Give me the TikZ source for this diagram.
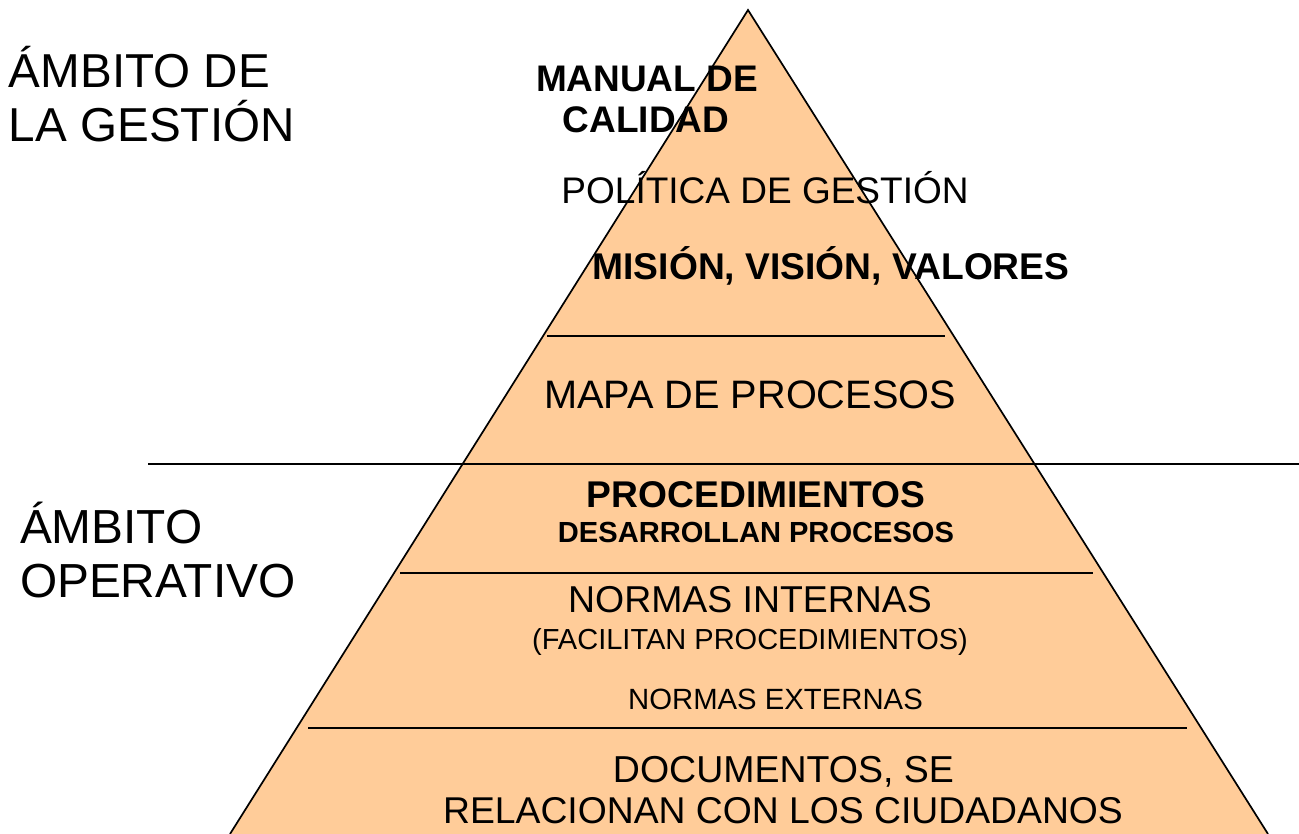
\documentclass[tikz,border=0pt]{standalone}
\usepackage{fontspec}
\setmainfont{Liberation Sans}
\definecolor{peach}{RGB}{255,204,153}
\tikzset{
  txt/.style={inner sep=0pt, outer sep=0pt, anchor=base, text=black},
  ltxt/.style={txt, anchor=base west},
  sidestroke/.style={line width=1.7pt, black},
  divider/.style={line width=1.6pt, black},
}
\newcommand{\fs}[1]{\fontsize{#1}{#1}\selectfont}
\begin{document}
\begin{tikzpicture}[x=1pt,y=-1pt]
\useasboundingbox (0,0) rectangle (1299,834);
\clip (0,0) rectangle (1299,834);
% pyramid
\coordinate (apex) at (748,10);
\coordinate (bl) at (230,834);
\coordinate (br) at (1268,834);
\fill[peach] (apex) -- (br) -- (bl) -- cycle;
\draw[sidestroke, line join=miter] (bl) -- (apex) -- (br);
% dividers
\coordinate (d1l) at (547,336); \coordinate (d1r) at (945,336);
\coordinate (d2l) at (148,464); \coordinate (d2r) at (1299,464);
\coordinate (d3l) at (400,573); \coordinate (d3r) at (1093,573);
\coordinate (d4l) at (308,728); \coordinate (d4r) at (1187,728);
\draw[divider] (d1l) -- (d1r);
\draw[divider] (d2l) -- (d2r);
\draw[divider] (d3l) -- (d3r);
\draw[divider] (d4l) -- (d4r);
% left labels
\node[ltxt, font=\fs{47.6}] (g1) at (9,88) {ÁMBITO DE};
\node[ltxt, font=\fs{47.6}] (g2) at (9,142) {LA GESTIÓN};
\node[ltxt, font=\fs{47.8}] (o1) at (20,543) {ÁMBITO};
\node[ltxt, font=\fs{47.8}] (o2) at (20,597) {OPERATIVO};
% pyramid labels
\node[txt, font=\bfseries\fs{37}] (m1) at (647,92) {MANUAL DE};
\node[txt, font=\bfseries\fs{37}] (m2) at (646,133) {CALIDAD};
\node[txt, font=\fs{37}] (pol) at (765,204) {POLÍTICA DE GESTIÓN};
\node[txt, font=\bfseries\fs{37.2}] (mis) at (831,280) {MISIÓN, VISIÓN, VALORES};
\node[txt, font=\fs{39.7}] (mapa) at (750,408) {MAPA DE PROCESOS};
\node[txt, font=\bfseries\fs{37.2}] (proc) at (756,507) {PROCEDIMIENTOS};
\node[txt, font=\bfseries\fs{29.1}] (des) at (756,542) {DESARROLLAN PROCESOS};
\node[txt, font=\fs{37.4}] (ni) at (750,612) {NORMAS INTERNAS};
\node[txt, font=\fs{29}] (fac) at (750,649) {(FACILITAN PROCEDIMIENTOS)};
\node[txt, font=\fs{29.3}] (ne) at (775.5,709) {NORMAS EXTERNAS};
\node[txt, font=\fs{37.5}] (doc) at (783.5,782) {DOCUMENTOS, SE};
\node[txt, font=\fs{37.3}] (rel) at (783,823) {RELACIONAN CON LOS CIUDADANOS};
\end{tikzpicture}
\end{document}
